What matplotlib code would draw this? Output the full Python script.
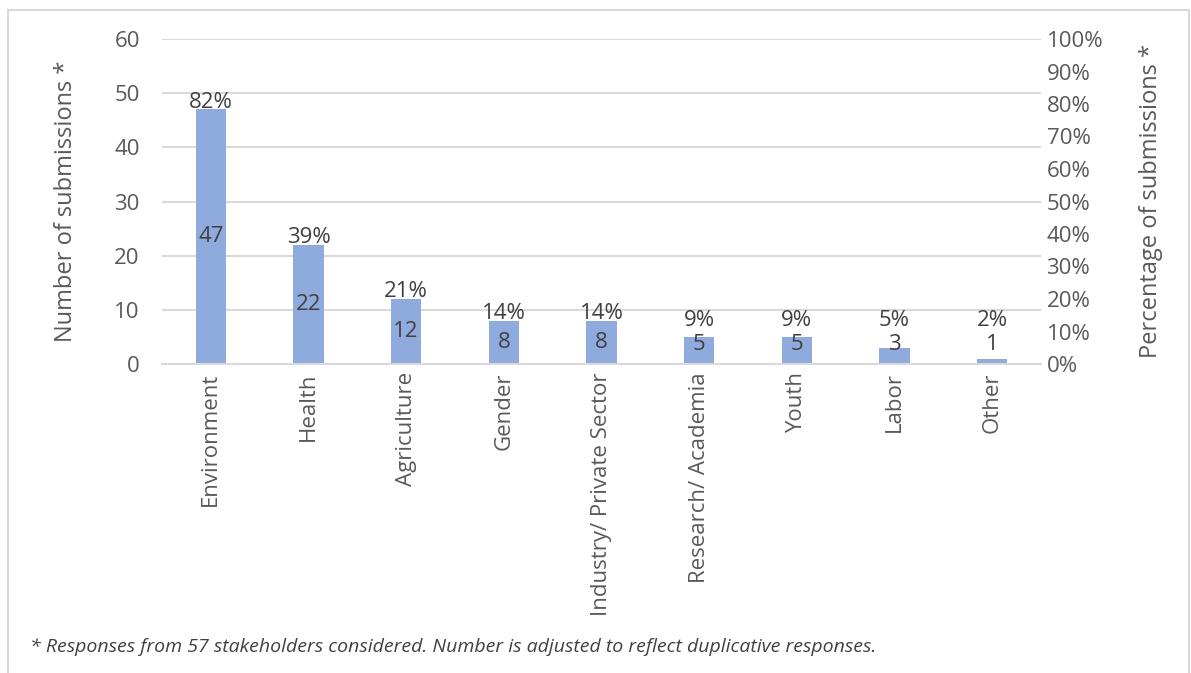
import matplotlib.pyplot as plt
from matplotlib.patches import Rectangle
from matplotlib.ticker import PercentFormatter

plt.rcParams['font.family'] = ['Open Sans', 'DejaVu Sans']

# Данные
categories = ["Environment", "Health", "Agriculture", "Gender", "Industry/ Private Sector",
              "Research/ Academia", "Youth", "Labor", "Other"]
counts = [47, 22, 12, 8, 8, 5, 5, 3, 1]
percents = ["82%", "39%", "21%", "14%", "14%", "9%", "9%", "5%", "2%"]
footnote = "* Responses from 57 stakeholders considered. Number is adjusted to reflect duplicative responses."

W, H = 1191, 673
fig = plt.figure(figsize=(W / 100, H / 100), dpi=100)
ax = fig.add_axes([162 / W, 1 - 364 / H, (1041 - 162) / W, (364 - 39) / H])

x = range(len(categories))
ax.bar(x, counts, width=0.31, color="#8FAADC", zorder=2)

# Подписи значений
for i, v in enumerate(counts):
    cy = max(v / 2, 3.6)
    py = max(v + 1.3, cy + 4.5)
    ax.text(i, cy, str(v), ha="center", va="center", fontsize=16, color="#404040", zorder=3)
    ax.text(i, py, percents[i], ha="center", va="center", fontsize=16, color="#404040", zorder=3)

ax.set_xlim(-0.5, len(categories) - 0.5)
ax.set_ylim(0, 60)
ax.set_yticks(range(0, 61, 10))
ax.grid(axis="y", color="#D9D9D9", lw=1.5, zorder=0)
for s in ["top", "right", "left"]:
    ax.spines[s].set_visible(False)
ax.spines["bottom"].set_color("#D9D9D9")
ax.spines["bottom"].set_linewidth(1.5)
ax.tick_params(axis="both", length=0, labelsize=16, labelcolor="#595959")
ax.tick_params(axis="y", pad=16)
ax.tick_params(axis="x", pad=6)
ax.set_xticks(list(x))
ax.set_xticklabels(categories, rotation=90)
ax.set_ylabel("Number of submissions *", fontsize=17, color="#595959", labelpad=26)

ax2 = ax.twinx()
ax2.set_ylim(0, 1)
ax2.set_yticks([i / 10 for i in range(11)])
ax2.yaxis.set_major_formatter(PercentFormatter(1.0, decimals=0))
for s in ax2.spines.values():
    s.set_visible(False)
ax2.tick_params(axis="y", length=0, labelsize=16, labelcolor="#595959", pad=4)
ax2.set_ylabel("Percentage of submissions *", fontsize=17, color="#595959", rotation=90, labelpad=26)

# Подпись и рамка
fig.text(30 / W, 1 - 647 / H, footnote, fontsize=14, style="italic", color="#404040", va="center")
fig.patches.append(Rectangle((8 / W, -0.01), (1189 - 8) / W, 1 - 10 / H + 0.01,
                             transform=fig.transFigure, fill=False, ec="#D9D9D9", lw=1.5))

fig.savefig("out.png", dpi=100)
